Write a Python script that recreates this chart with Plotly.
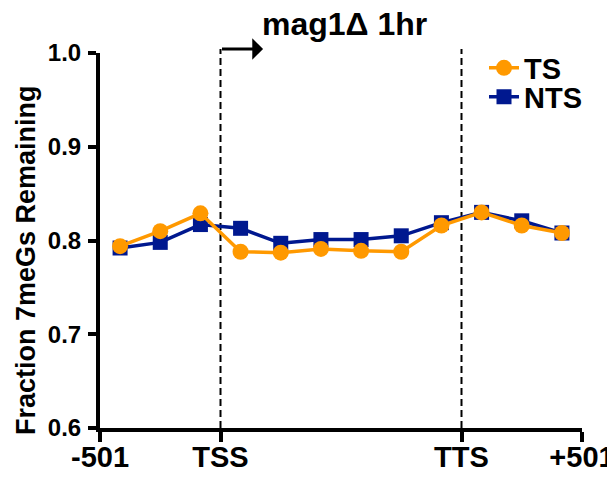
import plotly.graph_objects as go

# Bin centers: 3 upstream bins, 6 gene-body bins, 3 downstream bins
bins = [0.5, 1.5, 2.5, 3.5, 4.5, 5.5, 6.5, 7.5, 8.5, 9.5, 10.5, 11.5]
ts_values = [0.794, 0.810, 0.829, 0.788, 0.787, 0.791, 0.789, 0.788, 0.816, 0.830, 0.816, 0.808]
nts_values = [0.792, 0.798, 0.817, 0.813, 0.797, 0.801, 0.801, 0.805, 0.819, 0.830, 0.821, 0.808]
tick_positions = [0, 3, 9, 12]
tick_labels = ["-501", "TSS", "TTS", "+501"]
y_ticks = [0.6, 0.7, 0.8, 0.9, 1.0]

ORANGE = "#FF9900"
NAVY = "#00188F"
FONT = "Liberation Sans, Arial, sans-serif"

# page body adds an 8px offset; target plot area in screen pixels: x 100..582, y 53..428
OFF = 8
W, H = 615, 477
L = 100 - OFF
T = 53 - OFF
R = W - (582 - OFF)
B = H - (428 - OFF)
PW, PH = W - L - R, H - T - B


def px_x(p):
    return (p - OFF - L) / PW


def px_y(p):
    return 1 - (p - OFF - T) / PH


fig = go.Figure()
fig.add_trace(go.Scatter(
    x=bins, y=nts_values, name="NTS", mode="lines+markers",
    line=dict(color=NAVY, width=3.5),
    marker=dict(symbol="square", size=15, color=NAVY),
    legend="legend2",
))
fig.add_trace(go.Scatter(
    x=bins, y=ts_values, name="TS", mode="lines+markers",
    line=dict(color=ORANGE, width=3.5),
    marker=dict(symbol="circle", size=16, color=ORANGE),
    legend="legend",
))

for xv in (tick_positions[1], tick_positions[2]):
    fig.add_shape(type="line", xref="x", yref="paper", x0=xv, x1=xv, y0=0, y1=px_y(49),
                  line=dict(color="black", width=2, dash="7px,4px"), layer="below")

# TSS arrow
fig.add_annotation(x=4.06, y=px_y(49), xref="x", yref="paper", ax=tick_positions[1], ay=0,
                   axref="x", ayref="pixel", showarrow=True, arrowhead=1, arrowsize=1.2,
                   arrowwidth=3, arrowcolor="black", standoff=0, startstandoff=0, text="")

# title
fig.add_annotation(x=px_x(344), y=px_y(24), xref="paper", yref="paper", text="mag1Δ 1hr",
                   showarrow=False, xanchor="center", yanchor="middle", borderpad=0,
                   font=dict(size=32, family=FONT, color="black", weight="bold"))

# y axis title
fig.add_annotation(x=px_x(26), y=px_y(260), xref="paper", yref="paper",
                   text="Fraction 7meGs Remaining",
                   showarrow=False, textangle=-90, xanchor="center", yanchor="middle",
                   font=dict(size=27, family=FONT, color="black", weight="bold"))

legend_common = dict(xanchor="left", yanchor="middle", bgcolor="rgba(0,0,0,0)",
                     itemwidth=30,
                     font=dict(size=29, family=FONT, color="black", weight="bold"))

fig.update_layout(
    width=W, height=H,
    margin=dict(l=L, r=R, t=T, b=B, autoexpand=False),
    plot_bgcolor="white", paper_bgcolor="white",
    font=dict(family=FONT, size=26, color="black", weight="bold"),
    showlegend=True,
    legend=dict(x=px_x(484), y=px_y(68), **legend_common),
    legend2=dict(x=px_x(484), y=px_y(97), **legend_common),
    xaxis=dict(range=[0, 12], tickvals=tick_positions, ticktext=tick_labels,
               showline=True, linecolor="black", linewidth=4, ticks="outside",
               ticklen=10, tickwidth=4, tickcolor="black", showgrid=False, zeroline=False,
               automargin=False, ticklabelstandoff=-10,
               tickfont=dict(size=29, family=FONT, color="black", weight="bold")),
    yaxis=dict(range=[0.6, 1.0], tickvals=y_ticks, tickformat=".1f",
               showline=True, linecolor="black", linewidth=4, ticks="outside",
               ticklen=8, tickwidth=4, tickcolor="black", showgrid=False, zeroline=False,
               automargin=False, ticklabelstandoff=2,
               tickfont=dict(size=24, family=FONT, color="black", weight="bold")),
)

fig.write_html("out.html")
